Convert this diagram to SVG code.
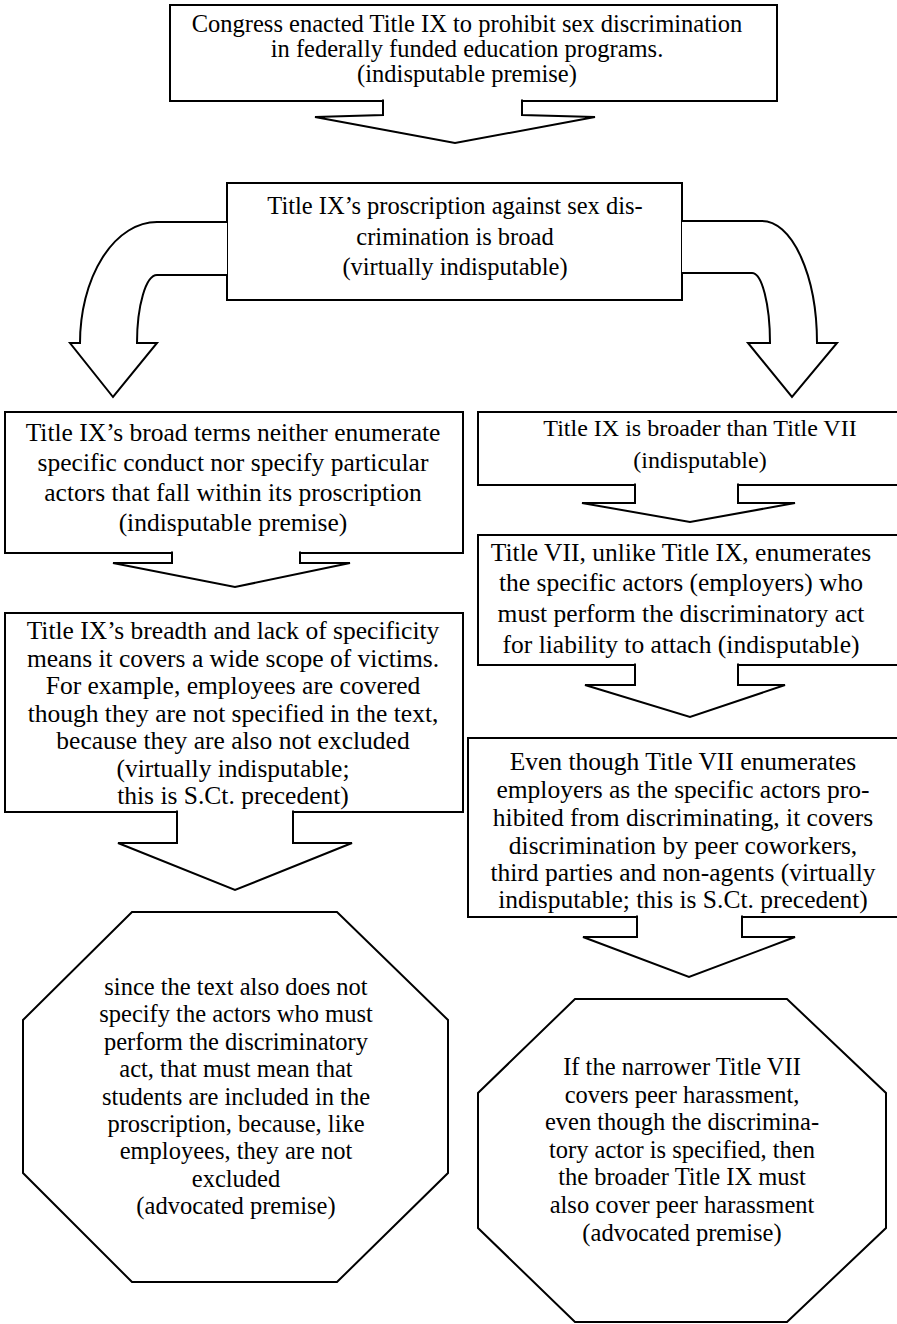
<svg xmlns="http://www.w3.org/2000/svg" width="897" height="1324" viewBox="0 0 897 1324">
<style>
.box{fill:#fff;stroke:#000;stroke-width:2}
.arr{fill:#fff;stroke:#000;stroke-width:2;stroke-linejoin:miter}
text{font-family:"Liberation Serif","Times New Roman",serif;font-size:24.5px;fill:#000;text-anchor:middle}
.big text{font-size:25.5px}
</style>
<rect width="897" height="1324" fill="#fff"/>
<g id="n1">
<rect class="box" x="170" y="5" width="607" height="96"/>
<text x="467" y="32">Congress enacted Title IX to prohibit sex discrimination</text>
<text x="467" y="57">in federally funded education programs.</text>
<text x="467" y="82">(indisputable premise)</text>
</g>
<g id="n2">
<rect class="box" x="227" y="183" width="455" height="117"/>
<text x="455" y="214">Title IX’s proscription against sex dis-</text>
<text x="455" y="245">crimination is broad</text>
<text x="455" y="275">(virtually indisputable)</text>
</g>
<g id="n3" class="big">
<rect class="box" x="5" y="412" width="458" height="141"/>
<text x="233" y="441">Title IX’s broad terms neither enumerate</text>
<text x="233" y="471">specific conduct nor specify particular</text>
<text x="233" y="501">actors that fall within its proscription</text>
<text x="233" y="531">(indisputable premise)</text>
</g>
<g id="n4">
<rect class="box" x="478" y="412" width="430" height="73"/>
<text x="700" y="436" style="font-size:24px">Title IX is broader than Title VII</text>
<text x="700" y="468" style="font-size:24px">(indisputable)</text>
</g>
<g id="n5" class="big">
<rect class="box" x="478" y="535" width="430" height="130"/>
<text x="681" y="561">Title VII, unlike Title IX, enumerates</text>
<text x="681" y="591">the specific actors (employers) who</text>
<text x="681" y="622">must perform the discriminatory act</text>
<text x="681" y="653">for liability to attach (indisputable)</text>
</g>
<g id="n6" class="big">
<rect class="box" x="468" y="738" width="440" height="179"/>
<text x="683" y="770">Even though Title VII enumerates</text>
<text x="683" y="798">employers as the specific actors pro-</text>
<text x="683" y="826">hibited from discriminating, it covers</text>
<text x="683" y="854">discrimination by peer coworkers,</text>
<text x="683" y="881">third parties and non-agents (virtually</text>
<text x="683" y="908">indisputable; this is S.Ct. precedent)</text>
</g>
<g id="n7" class="big">
<rect class="box" x="5" y="613" width="458" height="199"/>
<text x="233" y="639">Title IX’s breadth and lack of specificity</text>
<text x="233" y="666.5">means it covers a wide scope of victims.</text>
<text x="233" y="694">For example, employees are covered</text>
<text x="233" y="721.5">though they are not specified in the text,</text>
<text x="233" y="749">because they are also not excluded</text>
<text x="233" y="776.5">(virtually indisputable;</text>
<text x="233" y="804">this is S.Ct. precedent)</text>
</g>
<g id="n8">
<polygon class="box" points="132,912 337,912 448,1020 448,1173 337,1282 132,1282 23,1173 23,1020"/>
<text x="236" y="995">since the text also does not</text>
<text x="236" y="1022.4">specify the actors who must</text>
<text x="236" y="1049.8">perform the discriminatory</text>
<text x="236" y="1077.2">act, that must mean that</text>
<text x="236" y="1104.6">students are included in the</text>
<text x="236" y="1132">proscription, because, like</text>
<text x="236" y="1159.4">employees, they are not</text>
<text x="236" y="1186.8">excluded</text>
<text x="236" y="1214.2">(advocated premise)</text>
</g>
<g id="n9">
<polygon class="box" points="575,999 787,999 886,1093 886,1228 787,1322 575,1322 478,1228 478,1093"/>
<text x="682" y="1075">If the narrower Title VII</text>
<text x="682" y="1102.6">covers peer harassment,</text>
<text x="682" y="1130.2">even though the discrimina-</text>
<text x="682" y="1157.8">tory actor is specified, then</text>
<text x="682" y="1185.4">the broader Title IX must</text>
<text x="682" y="1213">also cover peer harassment</text>
<text x="682" y="1240.6">(advocated premise)</text>
</g>
<g id="connectors">
<path class="arr" d="M383,99.5 L383,115 L315,117 L455,143 L595,117 L522,115 L522,99.5"/>
<path class="arr" d="M227,222 L157,222 A77,121 0 0 0 80,343 L70,343 L113,397 L157,343 L137,343 A20,68 0 0 1 157,275 L227,275"/>
<path class="arr" d="M682,221 L762,221 A55,122 0 0 1 817,343 L837,343 L792,397 L748,343 L770,343 A18,70 0 0 0 752,273 L682,273"/>
<path class="arr" d="M172,551.5 L172,563 L113,563 L235,587 L350,563 L300,563 L300,551.5"/>
<path class="arr" d="M177,810.5 L177,843 L118,843 L235,890 L352,843 L293,843 L293,810.5"/>
<path class="arr" d="M635,483.5 L635,503 L582,503 L690,522 L795,503 L738,503 L738,483.5"/>
<path class="arr" d="M635,663.5 L635,685 L585,685 L690,717 L785,685 L738,685 L738,663.5"/>
<path class="arr" d="M637,915.5 L637,937 L583,937 L689,977 L795,937 L742,937 L742,915.5"/>
</g>
</svg>
